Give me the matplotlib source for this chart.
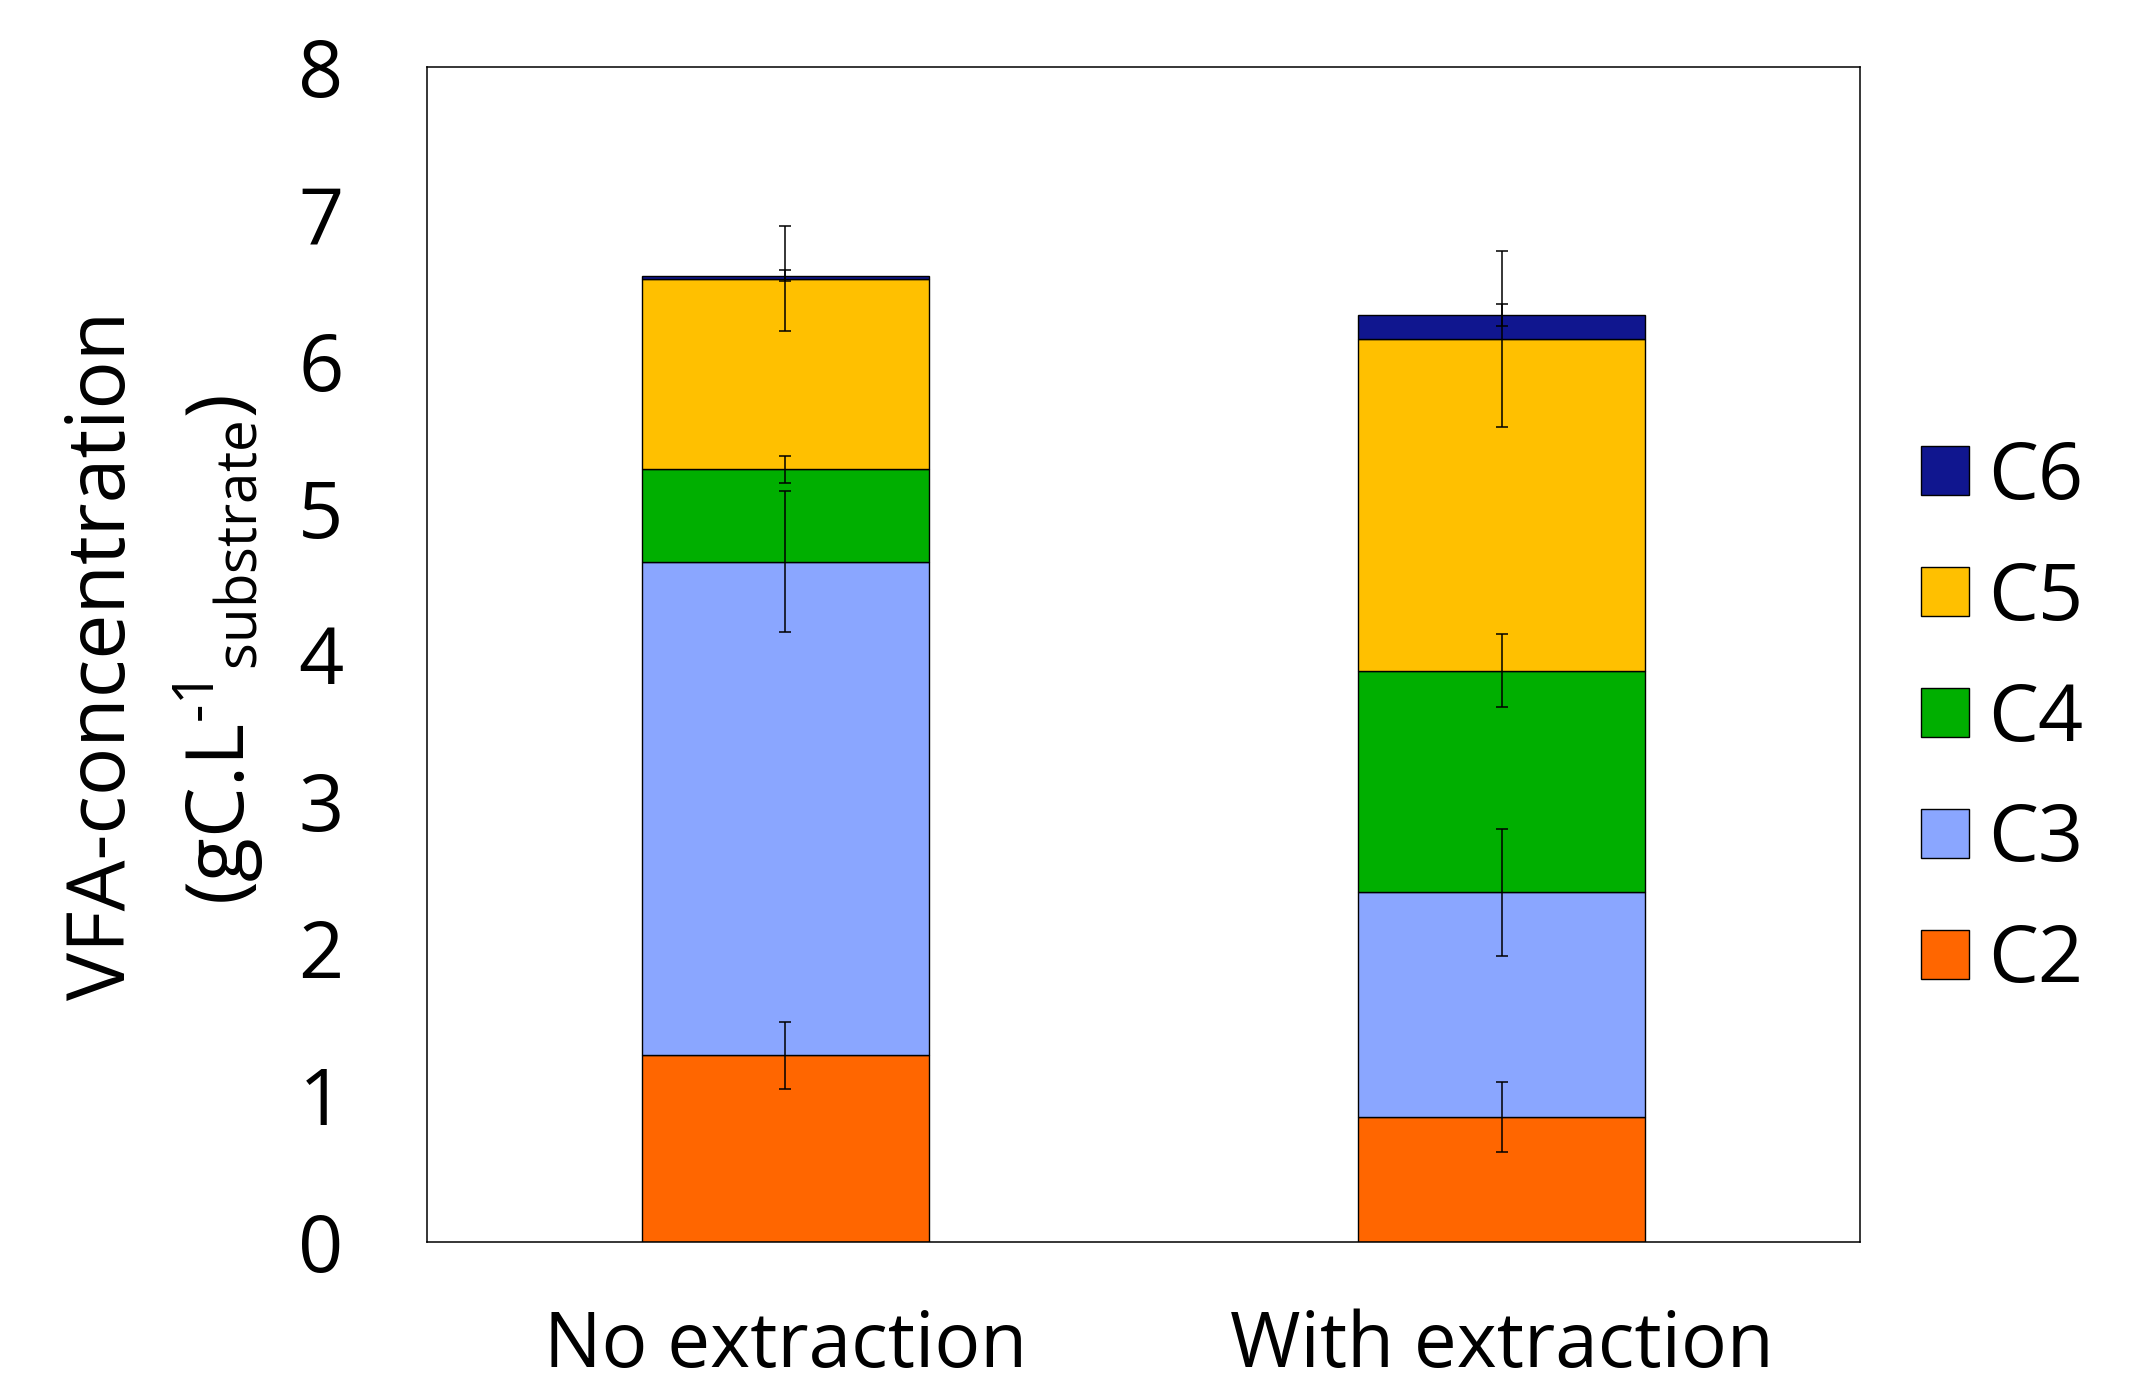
import matplotlib
matplotlib.use("Agg")
import matplotlib.pyplot as plt
import numpy as np

# ---- data ----
categories = ["No extraction", "With extraction"]
series = ["C2", "C3", "C4", "C5", "C6"]
c2 = [1.27, 0.85]
c3 = [3.36, 1.53]
c4 = [0.63, 1.51]
c5 = [1.30, 2.26]
c6 = [0.02, 0.16]
c2_err = [0.23, 0.24]
c3_err = [0.48, 0.43]
c4_err = [0.09, 0.25]
c5_err = [0.36, 0.60]
c6_err = [0.035, 0.073]
colors = ["#FF6600", "#8AA6FF", "#00AF00", "#FFC000", "#10168F"]
yticks = [0, 1, 2, 3, 4, 5, 6, 7, 8]

values = [c2, c3, c4, c5, c6]
errors = [c2_err, c3_err, c4_err, c5_err, c6_err]

plt.rcParams['font.family'] = ['Open Sans', 'DejaVu Sans']
plt.rcParams['mathtext.default'] = 'regular'

W, H = 2148, 1394
fig = plt.figure(figsize=(W / 100, H / 100), dpi=100)
ax = fig.add_axes([427 / W, 1 - 1242 / H, 1433 / W, 1175 / H])

x = np.arange(len(categories))
bottom = np.zeros(len(categories))
tops = []
handles = []
for name, vals, col in zip(series, values, colors):
    vals = np.array(vals)
    h = ax.bar(x, vals, width=0.4, bottom=bottom, color=col,
               edgecolor="black", linewidth=1.0, label=name, zorder=2)
    handles.append(h)
    bottom = bottom + vals
    tops.append(bottom.copy())

for top, err in zip(tops, errors):
    ax.errorbar(x, top, yerr=err, fmt="none", ecolor="black",
                elinewidth=1.1, capsize=4.3, capthick=1.1, zorder=3)

ax.set_xlim(-0.5, 1.5)
ax.set_ylim(0, 8)
ax.set_yticks(yticks)
ax.set_xticks(x)
ax.set_xticklabels(categories)
ax.tick_params(axis="both", length=0, labelsize=57)
ax.tick_params(axis="x", labelsize=55)
ax.tick_params(axis="y", pad=60)
ax.tick_params(axis="x", pad=48)
for s in ax.spines.values():
    s.set_linewidth(1.1)

fig.text(104 / W, 1 - 655 / H, "VFA-concentration", rotation=90,
         ha="center", va="center", fontsize=58)
fig.text(219 / W, 1 - 650 / H, "(gC.L$^{\u20101}$$_{substrate}$)", rotation=90,
         ha="center", va="center", fontsize=58)

leg = ax.legend(handles[::-1], series[::-1], loc="center left",
                bbox_to_anchor=(1921 / W, 1 - 720 / H),
                bbox_transform=fig.transFigure, frameon=False,
                fontsize=57, handlelength=0.6, handleheight=0.56,
                handletextpad=0.25, labelspacing=0.53, borderpad=0,
                borderaxespad=0)

fig.savefig("out.png", dpi=100)
